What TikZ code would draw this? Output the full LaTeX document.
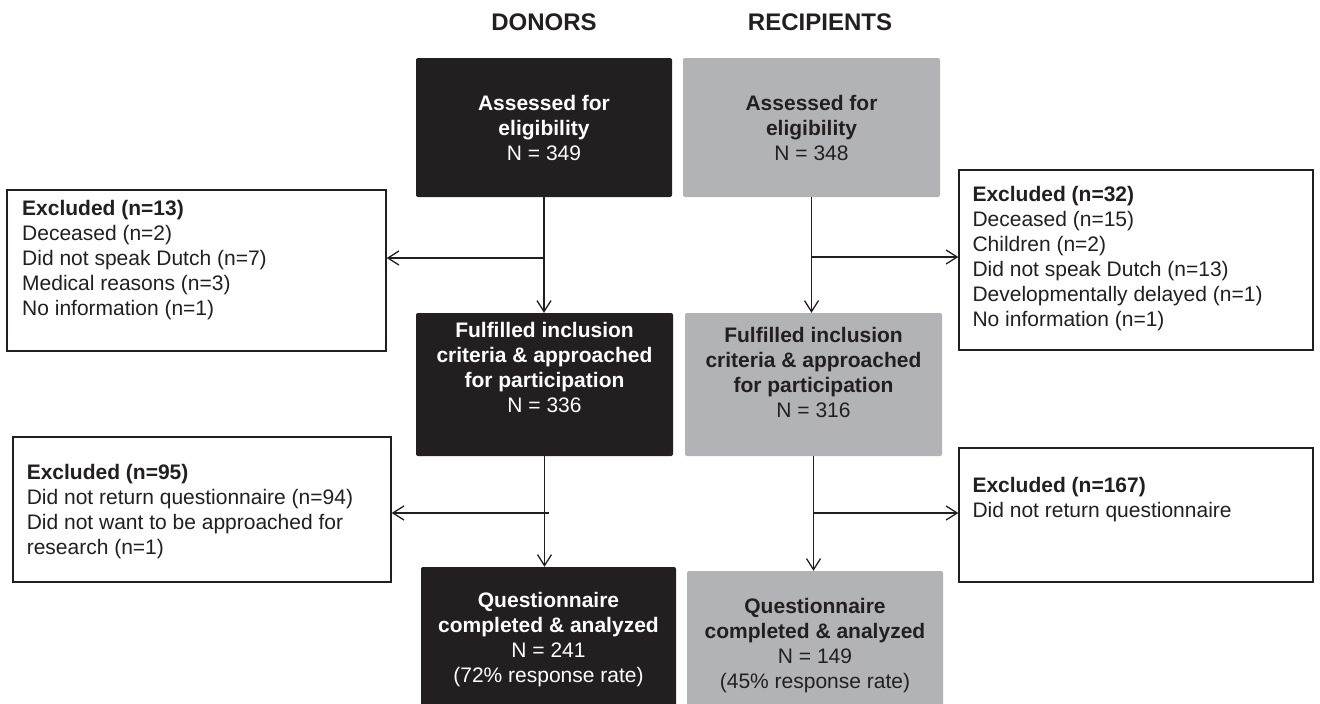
\documentclass[tikz,border=0pt]{standalone}
\usepackage{fontspec}
\setmainfont{Liberation Sans}
\usetikzlibrary{arrows.meta,positioning}
\definecolor{ink}{HTML}{231F20}
\definecolor{donor}{HTML}{231F20}
\definecolor{recip}{HTML}{B2B3B6}
\tikzset{arr/.style={-{Straight Barb[length=11pt,width=14pt]},line width=1.3pt,draw=ink},
  head/.style={inner sep=0pt,text=ink,font=\fontsize{24}{28}\selectfont\bfseries},
  stage/.style={rounded corners=2pt,inner sep=0pt},
  donorbox/.style={stage,fill=donor},
  recipbox/.style={stage,fill=recip},
  stagetext/.style={align=center,inner sep=0pt,font=\fontsize{21}{25}\selectfont},
  exbox/.style={draw=ink,line width=1.4pt,fill=white,inner sep=0pt},
  extext/.style={anchor=north west,align=left,inner sep=0pt,text=ink,font=\fontsize{21}{25}\selectfont}}

\begin{document}
\begin{tikzpicture}[x=1pt,y=-1pt]
\useasboundingbox (0,0) rectangle (1320,704);
\node[head] (dhead) at (544,22.5) {DONORS};
\node[head] (rhead) at (820,22.5) {RECIPIENTS};
\node[donorbox,minimum width=256pt,minimum height=139pt] (d1) at (544,127.5) {};
\node[recipbox,minimum width=257pt,minimum height=139pt] (r1) at (811.5,127.5) {};
\node[donorbox,minimum width=257pt,minimum height=143pt] (d2) at (544.5,384.5) {};
\node[recipbox,minimum width=257pt,minimum height=143pt] (r2) at (813.5,384.5) {};
\node[donorbox,minimum width=255pt,minimum height=139pt] (d3) at (548.5,636.5) {};
\node[recipbox,minimum width=256pt,minimum height=135pt] (r3) at (815,638.5) {};
\node[stagetext,text=white] (d1t) at (d1) {\textbf{Assessed for}\\\textbf{eligibility}\\N = 349};
\node[stagetext,text=ink] (r1t) at (r1) {\textbf{Assessed for}\\\textbf{eligibility}\\N = 348};
\node[stagetext,text=white,yshift=17pt] (d2t) at (d2) {\textbf{Fulfilled inclusion}\\\textbf{criteria \& approached}\\\textbf{for participation}\\N = 336};
\node[stagetext,text=ink,yshift=12pt] (r2t) at (r2) {\textbf{Fulfilled inclusion}\\\textbf{criteria \& approached}\\\textbf{for participation}\\N = 316};
\node[stagetext,text=white,yshift=-3pt] (d3t) at (d3) {\textbf{Questionnaire}\\\textbf{completed \& analyzed}\\N = 241\\(72\% response rate)};
\node[stagetext,text=ink,yshift=-7pt] (r3t) at (r3) {\textbf{Questionnaire}\\\textbf{completed \& analyzed}\\N = 149\\(45\% response rate)};
\node[exbox,minimum width=379pt,minimum height=161pt] (ld1) at (196.5,270.5) {};
\node[exbox,minimum width=354pt,minimum height=180pt] (rd1) at (1136,260) {};
\node[exbox,minimum width=378pt,minimum height=145pt] (ld2) at (202,509.5) {};
\node[exbox,minimum width=354pt,minimum height=134pt] (rd2) at (1136,515) {};
\node[extext] (ld1t) at ([xshift=15.7pt,yshift=-10.7pt]ld1.north west) {\textbf{Excluded (n=13)}\\Deceased (n=2)\\Did not speak Dutch (n=7)\\Medical reasons (n=3)\\No information (n=1)};
\node[extext] (rd1t) at ([xshift=14pt,yshift=-16.7pt]rd1.north west) {\textbf{Excluded (n=32)}\\Deceased (n=15)\\Children (n=2)\\Did not speak Dutch (n=13)\\Developmentally delayed (n=1)\\No information (n=1)};
\node[extext] (ld2t) at ([xshift=14.3pt,yshift=-27.7pt]ld2.north west) {\textbf{Excluded (n=95)}\\Did not return questionnaire (n=94)\\Did not want to be approached for\\research (n=1)};
\node[extext] (rd2t) at ([xshift=14pt,yshift=-29.7pt]rd2.north west) {\textbf{Excluded (n=167)}\\Did not return questionnaire};
\coordinate (b1) at (d1.south |- 0,258);
\coordinate (b2) at (r1.south |- 0,257);
\coordinate (b3) at (d2.south |- 0,513);
\coordinate (b4) at (r2.south |- 0,513);
\draw[arr] (d1.south) -- (d1.south |- d2.north);
\draw[arr] (r1.south) -- (r1.south |- r2.north);
\draw[arr] (d2.south) -- (d2.south |- d3.north);
\draw[arr] (r2.south) -- (r2.south |- r3.north);
\draw[arr] (b1) -- (ld1.east |- b1);
\draw[arr] (b2) -- (rd1.west |- b2);
\draw[arr] ([xshift=4pt]b3) -- (ld2.east |- b3);
\draw[arr] (b4) -- (rd2.west |- b4);
\end{tikzpicture}
\end{document}
